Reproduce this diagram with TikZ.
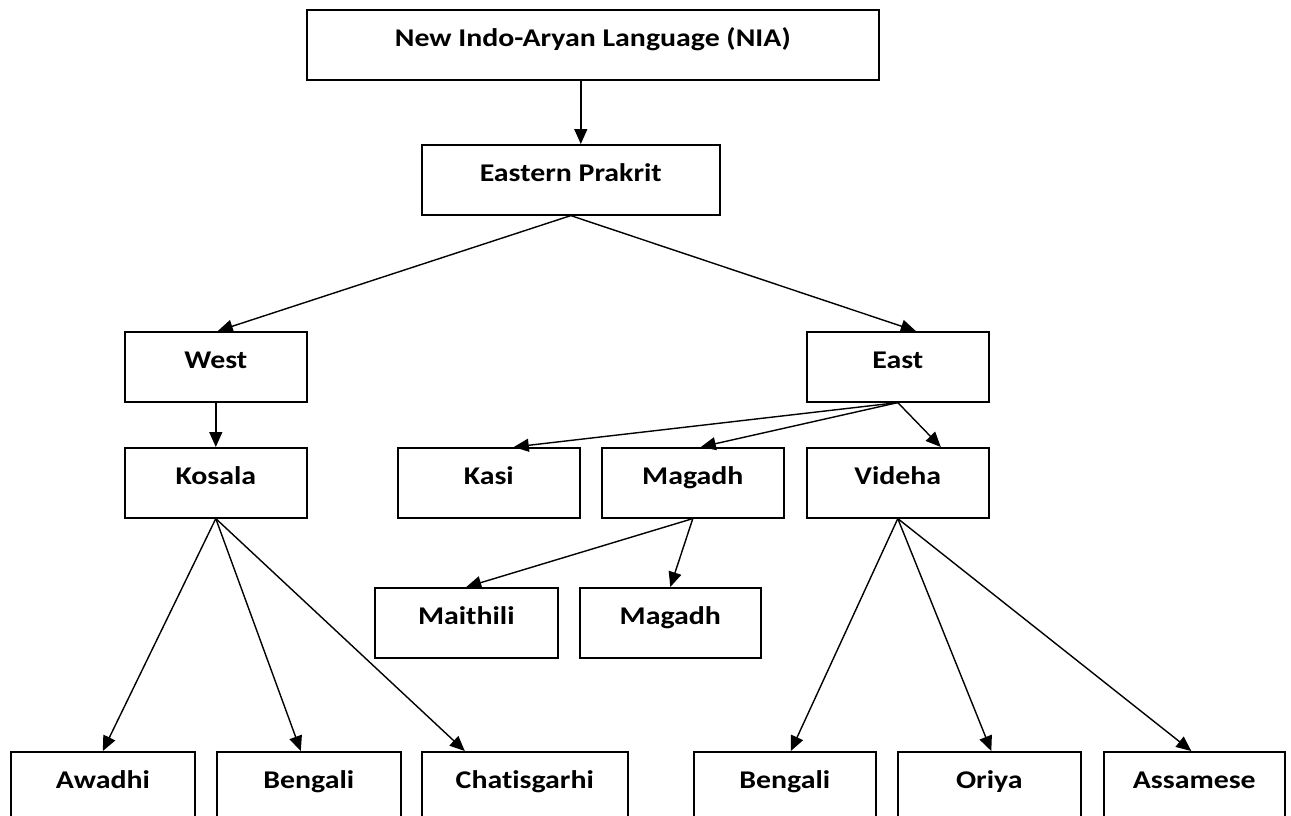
\documentclass[tikz,border=0pt]{standalone}
\usepackage{fontspec}
\setmainfont{Carlito}
\newfontfamily\boxfont{Carlito}[FakeStretch=1.17, Ligatures=NoCommon]
\usetikzlibrary{arrows.meta}
\begin{document}
\begin{tikzpicture}[x=1pt,y=-1pt,
  box/.style={draw, line width=1.6pt, anchor=north west, inner xsep=0pt, inner ysep=0pt,
              text height=37pt, text depth=33pt, minimum width=182pt,
              font=\boxfont\bfseries\fontsize{25.5}{30}\selectfont},
  link/.style={line width=1.4pt, -{Triangle[length=15pt,width=13pt]}}]
\clip (0,0) rectangle (1291,816);

% level 0 and 1
\node[box, minimum width=572pt] (nia) at (306,9) {New Indo-Aryan Language (NIA)};
\node[box, minimum width=298pt] (ep) at (421,144) {Eastern Prakrit};

% branches
\node[box] (west) at (124,331) {West};
\node[box] (east) at (806,331) {East};

% regional groups
\node[box] (kosala) at (124,447) {Kosala};
\node[box] (kasi) at (397,447) {Kasi};
\node[box] (magadh) at (601,447) {Magadh};
\node[box] (videha) at (806,447) {Videha};

% Magadh offshoots
\node[box, minimum width=183pt] (maithili) at (374,587) {Maithili};
\node[box, minimum width=181pt] (magadhb) at (579,587) {Magadh};

% modern languages
\node[box, minimum width=184pt] (awadhi) at (10,751) {Awadhi};
\node[box, minimum width=184pt] (bengali) at (216,751) {Bengali};
\node[box, minimum width=206pt] (chat) at (421,751) {Chatisgarhi};
\node[box] (bengalib) at (693,751) {Bengali};
\node[box, minimum width=183pt] (oriya) at (897,751) {Oriya};
\node[box, minimum width=181pt] (assam) at (1103,751) {Assamese};

% connectors
\draw[link] ([xshift=-12pt]nia.south) -- ([xshift=10pt]ep.north);
\draw[link] (ep.south) -- ([xshift=2pt]west.north);
\draw[link] (ep.south) -- ([xshift=18pt]east.north);
\draw[link] (west.south) -- (kosala.north);

\draw[link] (kosala.south) -- (awadhi.north);
\draw[link] (kosala.south) -- ([xshift=-8pt]bengali.north);
\draw[link] (kosala.south) -- ([xshift=-60pt]chat.north);

\draw[link] (east.south) -- ([xshift=25pt]kasi.north);
\draw[link] (east.south) -- ([xshift=8pt]magadh.north);
\draw[link] (east.south) -- ([xshift=43pt]videha.north);

\draw[link] (magadh.south) -- (maithili.north);
\draw[link] (magadh.south) -- (magadhb.north);

\draw[link] (videha.south) -- ([xshift=6pt]bengalib.north);
\draw[link] (videha.south) -- ([xshift=2pt]oriya.north);
\draw[link] (videha.south) -- ([xshift=-3pt]assam.north);
\end{tikzpicture}
\end{document}
